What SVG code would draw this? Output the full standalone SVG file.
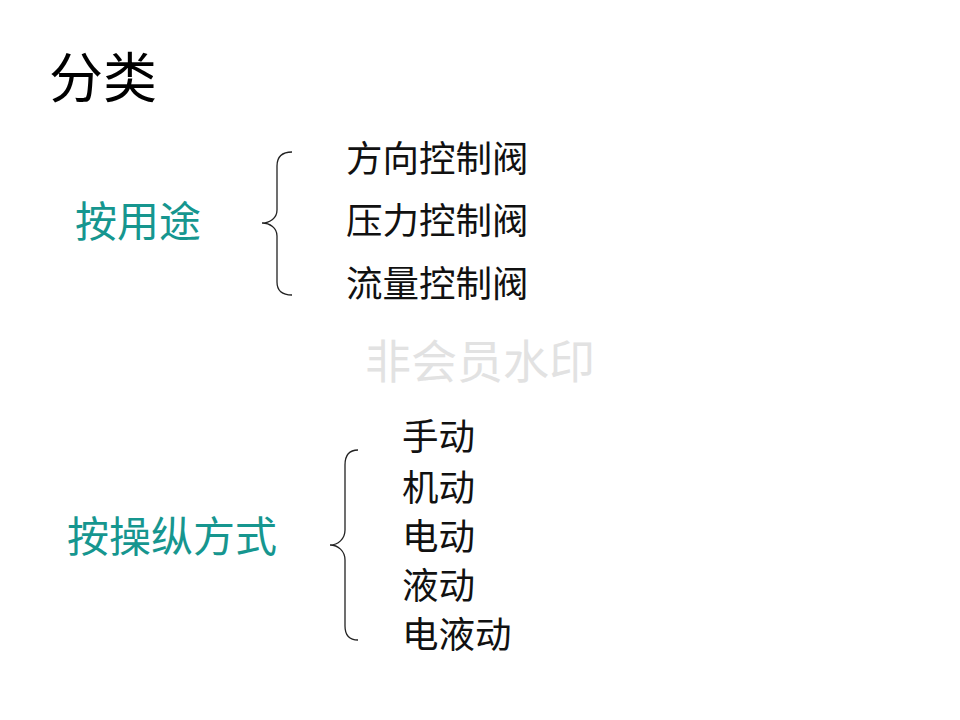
<svg xmlns="http://www.w3.org/2000/svg" width="960" height="720" viewBox="0 0 960 720">
<style>
.t{font-family:"Liberation Sans","Noto Sans CJK SC",sans-serif;}
.cat{font-family:"Liberation Serif","Noto Sans CJK SC",serif;fill:#16968f;font-size:42px;}
.item{font-family:"Liberation Serif","Noto Sans CJK SC",serif;fill:#111;font-size:36.5px;}
.brace{fill:none;stroke:#222;stroke-width:1.3;}
</style>
<rect width="960" height="720" fill="#fff"/>
<text class="t" x="49" y="98" font-size="54" fill="#000">分类</text>
<text class="t" x="365" y="378" font-size="46" fill="#e2e2e2">非会员水印</text>
<g id="cat-use"><text class="cat" x="75" y="237">按用途</text></g>
<g id="cat-op"><text class="cat" x="67" y="552" font-size="44">按操纵方式</text></g>
<g id="connectors">
<path class="brace" d="M292,152 C282,152 277,156 277,166 L277,210 C277,218 270,223 262,223 C270,223 277,228 277,236 L277,282 C277,291 282,295 292,295"/>
<path class="brace" d="M358,450 C349,450 345,455 345,465 L345,530 C345,539 338,545 330,545 C338,545 345,551 345,560 L345,626 C345,635 349,640 358,640"/>
</g>
<g id="i1"><text class="item" x="346" y="172">方向控制阀</text></g>
<g id="i2"><text class="item" x="346" y="234">压力控制阀</text></g>
<g id="i3"><text class="item" x="346" y="297">流量控制阀</text></g>
<g id="j1"><text class="item" x="402" y="450">手动</text></g>
<g id="j2"><text class="item" x="402" y="501">机动</text></g>
<g id="j3"><text class="item" x="402" y="550">电动</text></g>
<g id="j4"><text class="item" x="402" y="599">液动</text></g>
<g id="j5"><text class="item" x="402" y="648">电液动</text></g>
</svg>
